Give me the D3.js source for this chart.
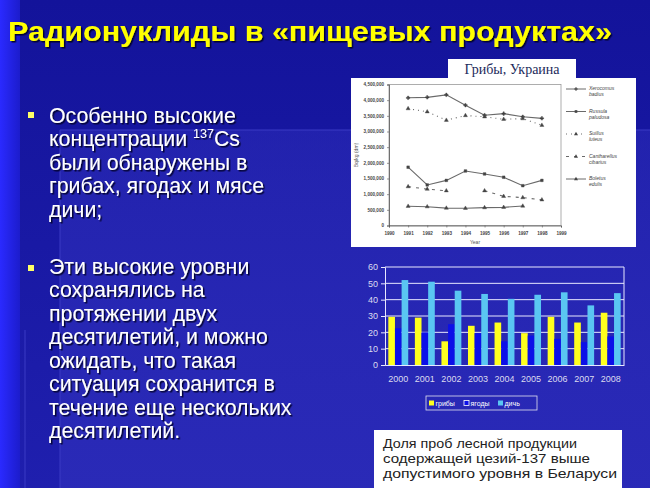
<!DOCTYPE html>
<html><head><meta charset="utf-8">
<script src="https://cdn.jsdelivr.net/npm/d3@7"></script>
<style>html,body{margin:0;padding:0;background:#1a1aa6;}svg{display:block;}</style>
</head><body>
<svg id="c" width="650" height="488"></svg>
<script>
// ---------- data ----------
const title = "Радионуклиды в «пищевых продуктах»";
const bullet1 = ["Особенно высокие", "концентрации |137|Cs", "были обнаружены в", "грибах, ягодах и мясе", "дичи;"];
const bullet2 = ["Эти высокие уровни", "сохранялись на", "протяжении двух", "десятилетий, и можно", "ожидать, что такая", "ситуация сохранится в", "течение еще нескольких", "десятилетий."];

// line chart (Ukraine mushrooms)
const lineTitle = "Грибы, Украина";
const lineYears = [1991, 1992, 1993, 1994, 1995, 1996, 1997, 1998];
const xerocomus = [4075000, 4090000, 4170000, 3840000, 3520000, 3570000, 3470000, 3420000];
const russula = [1860000, 1295000, 1440000, 1740000, 1645000, 1540000, 1270000, 1440000];
const suillus = [3730000, 3630000, 3360000, 3510000, 3470000, 3390000, 3410000, 3200000];
const cantharellus = [1240000, 1160000, 1110000, null, 1110000, 930000, 890000, 820000];
const boletus = [615000, 600000, 555000, 550000, 570000, 580000, 620000, null];
const lineSeriesNames = [["Xerocomus", "badius"], ["Russula", "paludosa"], ["Suillus", "luteus"], ["Cantharellus", "cibarius"], ["Boletus", "edulis"]];
const lineXTicks = [1990, 1991, 1992, 1993, 1994, 1995, 1996, 1997, 1998, 1999];
const lineYTicks = [0, 500000, 1000000, 1500000, 2000000, 2500000, 3000000, 3500000, 4000000, 4500000];

// bar chart (Belarus)
const barYears = ["2000", "2001", "2002", "2003", "2004", "2005", "2006", "2007", "2008"];
const mushrooms = [29.5, 29, 14.5, 24, 26, 19.5, 29.5, 26, 32];
const berries = [22.5, 20, 25, 19.5, 14.5, 18, 16, 14, 17.5];
const game = [52, 51, 45.5, 43.5, 40.5, 43, 44.5, 36.5, 44];
const barSeriesNames = ["грибы", "ягоды", "дичь"];
const barYTicks = [0, 10, 20, 30, 40, 50, 60];
const caption = ["Доля проб лесной продукции", "содержащей цезий-137 выше", "допустимого уровня в Беларуси"];

// ---------- drawing ----------
const svg = d3.select("#c");
const defs = svg.append("defs");
const sh = defs.append("filter").attr("id", "sh").attr("x", "-5%").attr("y", "-20%").attr("width", "110%").attr("height", "140%");
sh.append("feDropShadow").attr("dx", 1.5).attr("dy", 1.5).attr("stdDeviation", 0.6).attr("flood-color", "#000022").attr("flood-opacity", 0.9);

const bgGrad = defs.append("linearGradient").attr("id", "bgg").attr("x1", 0).attr("y1", 0).attr("x2", 0).attr("y2", 1);
bgGrad.append("stop").attr("offset", 0).attr("stop-color", "#13139a");
bgGrad.append("stop").attr("offset", 1).attr("stop-color", "#1f1fae");
const leftGrad = defs.append("linearGradient").attr("id", "lg").attr("x1", 0).attr("y1", 0).attr("x2", 1).attr("y2", 0);
leftGrad.append("stop").attr("offset", 0).attr("stop-color", "#2a2aff");
leftGrad.append("stop").attr("offset", 1).attr("stop-color", "#1c1ccc");
const panelGrad = defs.append("linearGradient").attr("id", "pg").attr("x1", 0).attr("y1", 0).attr("x2", 0).attr("y2", 1);
panelGrad.append("stop").attr("offset", 0).attr("stop-color", "#2b2bb8").attr("stop-opacity", 0.55);
panelGrad.append("stop").attr("offset", 1).attr("stop-color", "#2b2bb8").attr("stop-opacity", 0.9);

svg.append("rect").attr("width", 650).attr("height", 488).attr("fill", "url(#bgg)");
svg.append("rect").attr("x", 60).attr("y", 130).attr("width", 590).attr("height", 358).attr("fill", "url(#pg)");
svg.append("line").attr("x1", 60).attr("x2", 60).attr("y1", 130).attr("y2", 488).attr("stroke", "#3a3ac4").attr("stroke-width", 1);
svg.append("line").attr("x1", 60).attr("x2", 650).attr("y1", 130).attr("y2", 130).attr("stroke", "#3a3ac4").attr("stroke-width", 1);
svg.append("line").attr("x1", 25).attr("x2", 25).attr("y1", 330).attr("y2", 488).attr("stroke", "#3a3ac4").attr("stroke-width", 1);
svg.append("rect").attr("x", 0).attr("y", 0).attr("width", 20).attr("height", 488).attr("fill", "url(#lg)");

// title
svg.append("text").attr("x", 8).attr("y", 41).attr("font-family", "Liberation Sans, Arial, sans-serif")
  .attr("font-weight", "bold").attr("font-size", 27).attr("fill", "#ffff00").attr("textLength", 604)
  .attr("lengthAdjust", "spacingAndGlyphs").attr("filter", "url(#sh)").text(title);

// bullets
function drawBullet(lines, y0, by) {
  svg.append("rect").attr("x", 28).attr("y", by).attr("width", 6).attr("height", 6).attr("fill", "#ffff66");
  const t = svg.append("text").attr("font-family", "Liberation Sans, Arial, sans-serif").attr("font-size", 21.3)
    .attr("fill", "#ffffff").attr("filter", "url(#sh)");
  lines.forEach((ln, i) => {
    const parts = ln.split("|");
    const row = t.append("tspan").attr("x", 49).attr("y", y0 + i * 23.5);
    if (parts.length === 1) { row.text(ln); }
    else {
      row.text(parts[0]);
      t.append("tspan").attr("font-size", 12.5).attr("dy", -8).text(parts[1]);
      t.append("tspan").attr("dy", 8).text(parts[2]);
    }
  });
}
drawBullet(bullet1, 122.5, 112);
drawBullet(bullet2, 273.5, 265);

// ---------- line chart ----------
svg.append("rect").attr("x", 448).attr("y", 59).attr("width", 128).attr("height", 20).attr("fill", "#ffffff");
svg.append("text").attr("x", 512).attr("y", 74).attr("text-anchor", "middle").attr("font-family", "Liberation Serif, Times New Roman, serif")
  .attr("font-size", 14).attr("fill", "#1c2a5a").text(lineTitle);
svg.append("rect").attr("x", 351).attr("y", 78).attr("width", 285).attr("height", 169).attr("fill", "#ffffff");

const lx = d3.scaleLinear().domain([1990, 1999]).range([389, 561]);
const ly = d3.scaleLinear().domain([0, 4500000]).range([225.5, 84.5]);
const lg = svg.append("g");
lg.append("rect").attr("x", 389).attr("y", 84.5).attr("width", 172).attr("height", 141).attr("fill", "none").attr("stroke", "#9a9a9a").attr("stroke-width", 0.8);
const yAx = lg.append("g").attr("transform", "translate(389,0)")
  .call(d3.axisLeft(ly).tickValues(lineYTicks).tickSize(2).tickFormat(d3.format(",")));
const xAx = lg.append("g").attr("transform", "translate(0,225.5)")
  .call(d3.axisBottom(lx).tickValues(lineXTicks).tickSize(2).tickFormat(d3.format("d")));
[yAx, xAx].forEach(a => {
  a.select(".domain").attr("stroke", "#555").attr("stroke-width", 0.8);
  a.selectAll(".tick line").attr("stroke", "#555").attr("stroke-width", 0.6);
  a.selectAll("text").attr("font-size", 4.6).attr("font-family", "Liberation Sans, Arial, sans-serif").attr("fill", "#444").attr("font-weight", "bold");
});
xAx.selectAll("text").attr("dy", "0.9em");
lg.append("text").attr("x", 475).attr("y", 244).attr("text-anchor", "middle").attr("font-size", 5).attr("font-family", "Liberation Sans, Arial, sans-serif").attr("fill", "#555").text("Year");
lg.append("text").attr("transform", "translate(358,155) rotate(-90)").attr("text-anchor", "middle").attr("font-size", 5).attr("font-family", "Liberation Sans, Arial, sans-serif").attr("fill", "#555").text("Bq/kg (dm)");

const lineSeries = [
  { v: xerocomus, dash: null, sym: d3.symbolCross, w: 1.1 },
  { v: russula, dash: null, sym: d3.symbolSquare, w: 1.1 },
  { v: suillus, dash: "1,4", sym: d3.symbolTriangle, w: 1.1 },
  { v: cantharellus, dash: "3,5", sym: d3.symbolTriangle, w: 1.1 },
  { v: boletus, dash: null, sym: d3.symbolTriangle, w: 1.1 }
];
const lineGen = d3.line().defined(d => d[1] != null).x(d => lx(d[0])).y(d => ly(d[1]));
lineSeries.forEach((s, k) => {
  const pts = lineYears.map((yr, i) => [yr, s.v[i]]);
  lg.append("path").attr("d", lineGen(pts)).attr("fill", "none").attr("stroke", "#6a6a6a").attr("stroke-width", s.w)
    .attr("stroke-dasharray", s.dash);
  lg.selectAll(null).data(pts.filter(p => p[1] != null)).enter().append("path")
    .attr("d", d3.symbol().type(s.sym).size(7))
    .attr("transform", p => `translate(${lx(p[0])},${ly(p[1])})`).attr("fill", "#444").attr("stroke", "#444").attr("stroke-width", 0.4);
  const yy = 89 + k * 22.5;
  lg.append("line").attr("x1", 566).attr("x2", 586).attr("y1", yy).attr("y2", yy).attr("stroke", "#6a6a6a").attr("stroke-width", 1)
    .attr("stroke-dasharray", s.dash);
  lg.append("path").attr("d", d3.symbol().type(s.sym).size(7)).attr("transform", `translate(576,${yy})`).attr("fill", "#444");
  const tt = lg.append("text").attr("font-size", 5).attr("font-style", "italic").attr("font-family", "Liberation Sans, Arial, sans-serif").attr("fill", "#444");
  lineSeriesNames[k].forEach((n, j) => tt.append("tspan").attr("x", 589).attr("y", yy + 1 + j * 6).text(n));
});

// ---------- bar chart ----------
const bx = d3.scaleBand().domain(barYears).range([385, 624]).paddingInner(0.25).paddingOuter(0.125);
const by = d3.scaleLinear().domain([0, 60]).range([365, 267]);
const bsub = d3.scaleBand().domain(barSeriesNames).range([0, bx.bandwidth()]);
const barColors = { "грибы": "#ffff1e", "ягоды": "#0c10e8", "дичь": "#5ac6f2" };
const bg = svg.append("g");
bg.selectAll(".grid").data(barYTicks.slice(1)).enter().append("line")
  .attr("x1", 385).attr("x2", 624).attr("y1", d => by(d)).attr("y2", d => by(d)).attr("stroke", "#e8e8ff").attr("stroke-width", 1);
bg.append("line").attr("x1", 624).attr("x2", 624).attr("y1", 267).attr("y2", 365).attr("stroke", "#e8e8ff").attr("stroke-width", 1);
const barData = [mushrooms, berries, game];
barYears.forEach((yr, i) => {
  barSeriesNames.forEach((s, k) => {
    const v = barData[k][i];
    bg.append("rect").attr("x", bx(yr) + bsub(s)).attr("width", bsub.bandwidth()).attr("y", by(v)).attr("height", by(0) - by(v)).attr("fill", barColors[s]);
  });
});
const bya = bg.append("g").attr("transform", "translate(385,0)").call(d3.axisLeft(by).tickValues(barYTicks).tickSize(4));
const bxa = bg.append("g").attr("transform", "translate(0,365)").call(d3.axisBottom(bx).tickSize(0));
[bya, bxa].forEach(a => {
  a.select(".domain").attr("stroke", "#e8e8ff").attr("stroke-width", 1);
  a.selectAll(".tick line").attr("stroke", "#e8e8ff");
  a.selectAll("text").attr("font-size", 9).attr("font-family", "Liberation Sans, Arial, sans-serif").attr("fill", "#dcdcf0");
});
bxa.selectAll("text").attr("dy", "1.5em");
// legend
bg.append("rect").attr("x", 426).attr("y", 396).attr("width", 111).attr("height", 14).attr("fill", "none").attr("stroke", "#e0e0f0").attr("stroke-width", 0.8);
const legX = [429, 464, 498];
barSeriesNames.forEach((s, k) => {
  bg.append("rect").attr("x", legX[k]).attr("y", 400.5).attr("width", 5).attr("height", 5).attr("fill", barColors[s]).attr("stroke", k === 1 ? "#ffffff" : "none").attr("stroke-width", 0.8);
  bg.append("text").attr("x", legX[k] + 6.5).attr("y", 406).attr("font-size", 7).attr("font-family", "Liberation Sans, Arial, sans-serif").attr("fill", "#ffffff").text(s);
});

// caption box
svg.append("rect").attr("x", 374).attr("y", 430).attr("width", 248).attr("height", 58).attr("fill", "#ffffff");
const ct = svg.append("text").attr("font-family", "Liberation Sans, Arial, sans-serif").attr("font-size", 13.5).attr("fill", "#222");
const capLen = [194, 207, 234];
caption.forEach((c, i) => ct.append("tspan").attr("x", 383).attr("y", 448 + i * 15).attr("textLength", capLen[i]).attr("lengthAdjust", "spacingAndGlyphs").text(c));
</script>
</body></html>
